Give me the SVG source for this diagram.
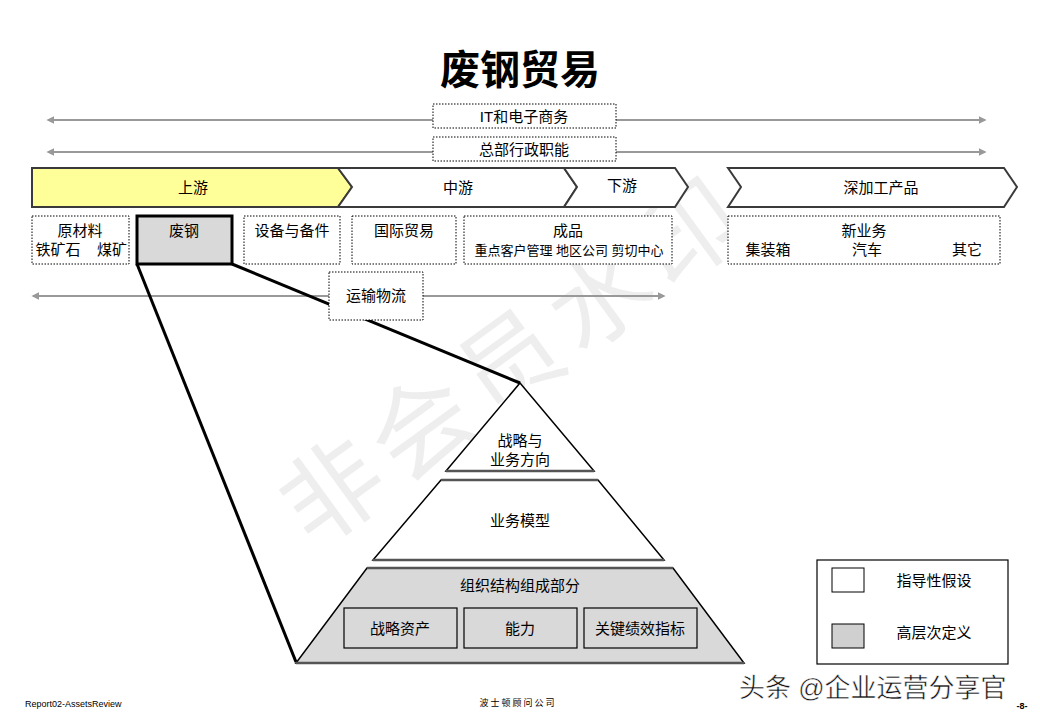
<svg xmlns="http://www.w3.org/2000/svg" width="1040" height="720" viewBox="0 0 1040 720">
<style>
text{font-family:"Liberation Sans","Noto Sans CJK SC",sans-serif;fill:#000;}
.t{font-size:15px;text-anchor:middle;dominant-baseline:central;}
.s{font-size:13px;text-anchor:middle;dominant-baseline:central;}
.dot{fill:#fff;stroke:#000;stroke-width:1;stroke-dasharray:1.5 1.5;}
.chev{stroke:#3a3a3a;stroke-width:2;}
.arr{stroke:#999;stroke-width:2;fill:none;marker-start:url(#ah);marker-end:url(#ah);}
.pyr{stroke:#000;stroke-width:1.5;}
.box{fill:#d9d9d9;stroke:#000;stroke-width:1.2;}
</style>
<defs>
<marker id="ah" viewBox="0 0 10 10" refX="8" refY="5" markerWidth="4" markerHeight="4" orient="auto-start-reverse" markerUnits="strokeWidth">
<path d="M0,0 L10,5 L0,10 z" fill="#999"/>
</marker>
</defs>
<rect width="1040" height="720" fill="#fff"/>
<g id="watermark">
<text x="515" y="360" transform="rotate(-36 515 360)" style="font-size:100px;fill:#eeeeee;text-anchor:middle;dominant-baseline:central;letter-spacing:10px">非会员水印</text>
</g>
<text x="520" y="70" style="font-size:40px;font-weight:bold;text-anchor:middle;dominant-baseline:central">废钢贸易</text>
<g id="connectors">
<line class="arr" x1="48" y1="120" x2="985" y2="120"/>
<line class="arr" x1="48" y1="152" x2="985" y2="152"/>
<line class="arr" x1="33" y1="296" x2="664" y2="296"/>
<line x1="137" y1="264" x2="296" y2="662" stroke="#000" stroke-width="3"/>
<line x1="232" y1="264" x2="520" y2="383" stroke="#000" stroke-width="3"/>
</g>
<g id="it"><rect class="dot" x="433" y="104" width="183" height="24"/><text class="t" x="524" y="116">IT和电子商务</text></g>
<g id="hq"><rect class="dot" x="433" y="137" width="183" height="24"/><text class="t" x="524" y="149">总部行政职能</text></g>
<g id="upstream"><path class="chev" d="M32,168 L338,168 L352,187 L338,207 L32,207 Z" fill="#ffff99"/><text class="t" x="193" y="187">上游</text></g>
<g id="midstream"><path class="chev" d="M338,168 L564,168 L577,187 L564,207 L338,207 L352,187 Z" fill="#fff"/><text class="t" x="458" y="187">中游</text></g>
<g id="downstream"><path class="chev" d="M564,168 L675,168 L688,187 L675,207 L564,207 L577,187 Z" fill="#fff"/><text class="t" x="622" y="185">下游</text></g>
<g id="deep"><path class="chev" d="M728,168 L1004,168 L1017,187 L1004,207 L728,207 L741,187 Z" fill="#fff"/><text class="t" x="881" y="187">深加工产品</text></g>
<g id="raw"><rect class="dot" x="32" y="216" width="97" height="48"/><text class="t" x="80" y="230">原材料</text><text class="t" x="58" y="249">铁矿石</text><text class="t" x="112" y="249">煤矿</text></g>
<g id="scrap"><rect x="137" y="216" width="95" height="48" fill="#d9d9d9" stroke="#000" stroke-width="3"/><text class="t" x="184" y="230">废钢</text></g>
<g id="equip"><rect class="dot" x="244" y="216" width="96" height="48"/><text class="t" x="292" y="230">设备与备件</text></g>
<g id="intl"><rect class="dot" x="352" y="216" width="104" height="48"/><text class="t" x="404" y="230">国际贸易</text></g>
<g id="product"><rect class="dot" x="464" y="216" width="208" height="48"/><text class="t" x="568" y="230">成品</text><text class="s" x="569" y="250">重点客户管理 地区公司 剪切中心</text></g>
<g id="newbiz"><rect class="dot" x="728" y="216" width="272" height="48"/><text class="t" x="864" y="230">新业务</text><text class="t" x="768" y="249">集装箱</text><text class="t" x="867" y="249">汽车</text><text class="t" x="967" y="249">其它</text></g>
<g id="logistics"><rect class="dot" x="329" y="272" width="94" height="48"/><text class="t" x="376" y="295">运输物流</text></g>
<g id="strategy"><path class="pyr" d="M520,383 L594,471 L446,471 Z" fill="#fff"/><line x1="446" y1="471" x2="594" y2="471" stroke="#555" stroke-width="2.5"/><text class="t" x="520" y="440">战略与</text><text class="t" x="520" y="459">业务方向</text></g>
<g id="model"><path class="pyr" d="M441,480 L598,480 L664,560 L373,560 Z" fill="#fff"/><line x1="441" y1="480" x2="598" y2="480" stroke="#555" stroke-width="2.5"/><line x1="373" y1="560" x2="664" y2="560" stroke="#555" stroke-width="2.5"/><text class="t" x="520" y="520">业务模型</text></g>
<g id="org"><path class="pyr" d="M367,568 L673,568 L744,663 L296,663 Z" fill="#d9d9d9"/><line x1="367" y1="568" x2="673" y2="568" stroke="#555" stroke-width="2.5"/><line x1="296" y1="663" x2="744" y2="663" stroke="#555" stroke-width="2.5"/><text class="t" x="520" y="585">组织结构组成部分</text></g>
<g id="assets"><rect class="box" x="344" y="608" width="113" height="40"/><text class="t" x="400" y="628">战略资产</text></g>
<g id="capability"><rect class="box" x="464" y="608" width="113" height="40"/><text class="t" x="520" y="628">能力</text></g>
<g id="kpi"><rect class="box" x="584" y="608" width="113" height="40"/><text class="t" x="640" y="628">关键绩效指标</text></g>
<g id="legend">
<rect x="817" y="560" width="191" height="104" fill="#fff" stroke="#000" stroke-width="1.2"/>
<rect x="832" y="568" width="32" height="24" fill="#fff" stroke="#000" stroke-width="1"/>
<rect x="832" y="624" width="32" height="24" fill="#d0d0d0" stroke="#000" stroke-width="1"/>
<text class="t" x="934" y="580">指导性假设</text>
<text class="t" x="934" y="632">高层次定义</text>
</g>
<text x="25" y="704" style="font-size:9px;dominant-baseline:central">Report02-AssetsReview</text>
<text x="518" y="703" style="font-size:9px;text-anchor:middle;dominant-baseline:central;letter-spacing:2px">波士顿顾问公司</text>
<text x="739" y="688" style="font-size:26px;fill:#111;dominant-baseline:central;stroke:#fff;stroke-width:0.5">头条 @企业运营分享官</text>
<text x="1022" y="706" style="font-size:9px;font-weight:bold;text-anchor:middle;dominant-baseline:central">-8-</text>
</svg>
